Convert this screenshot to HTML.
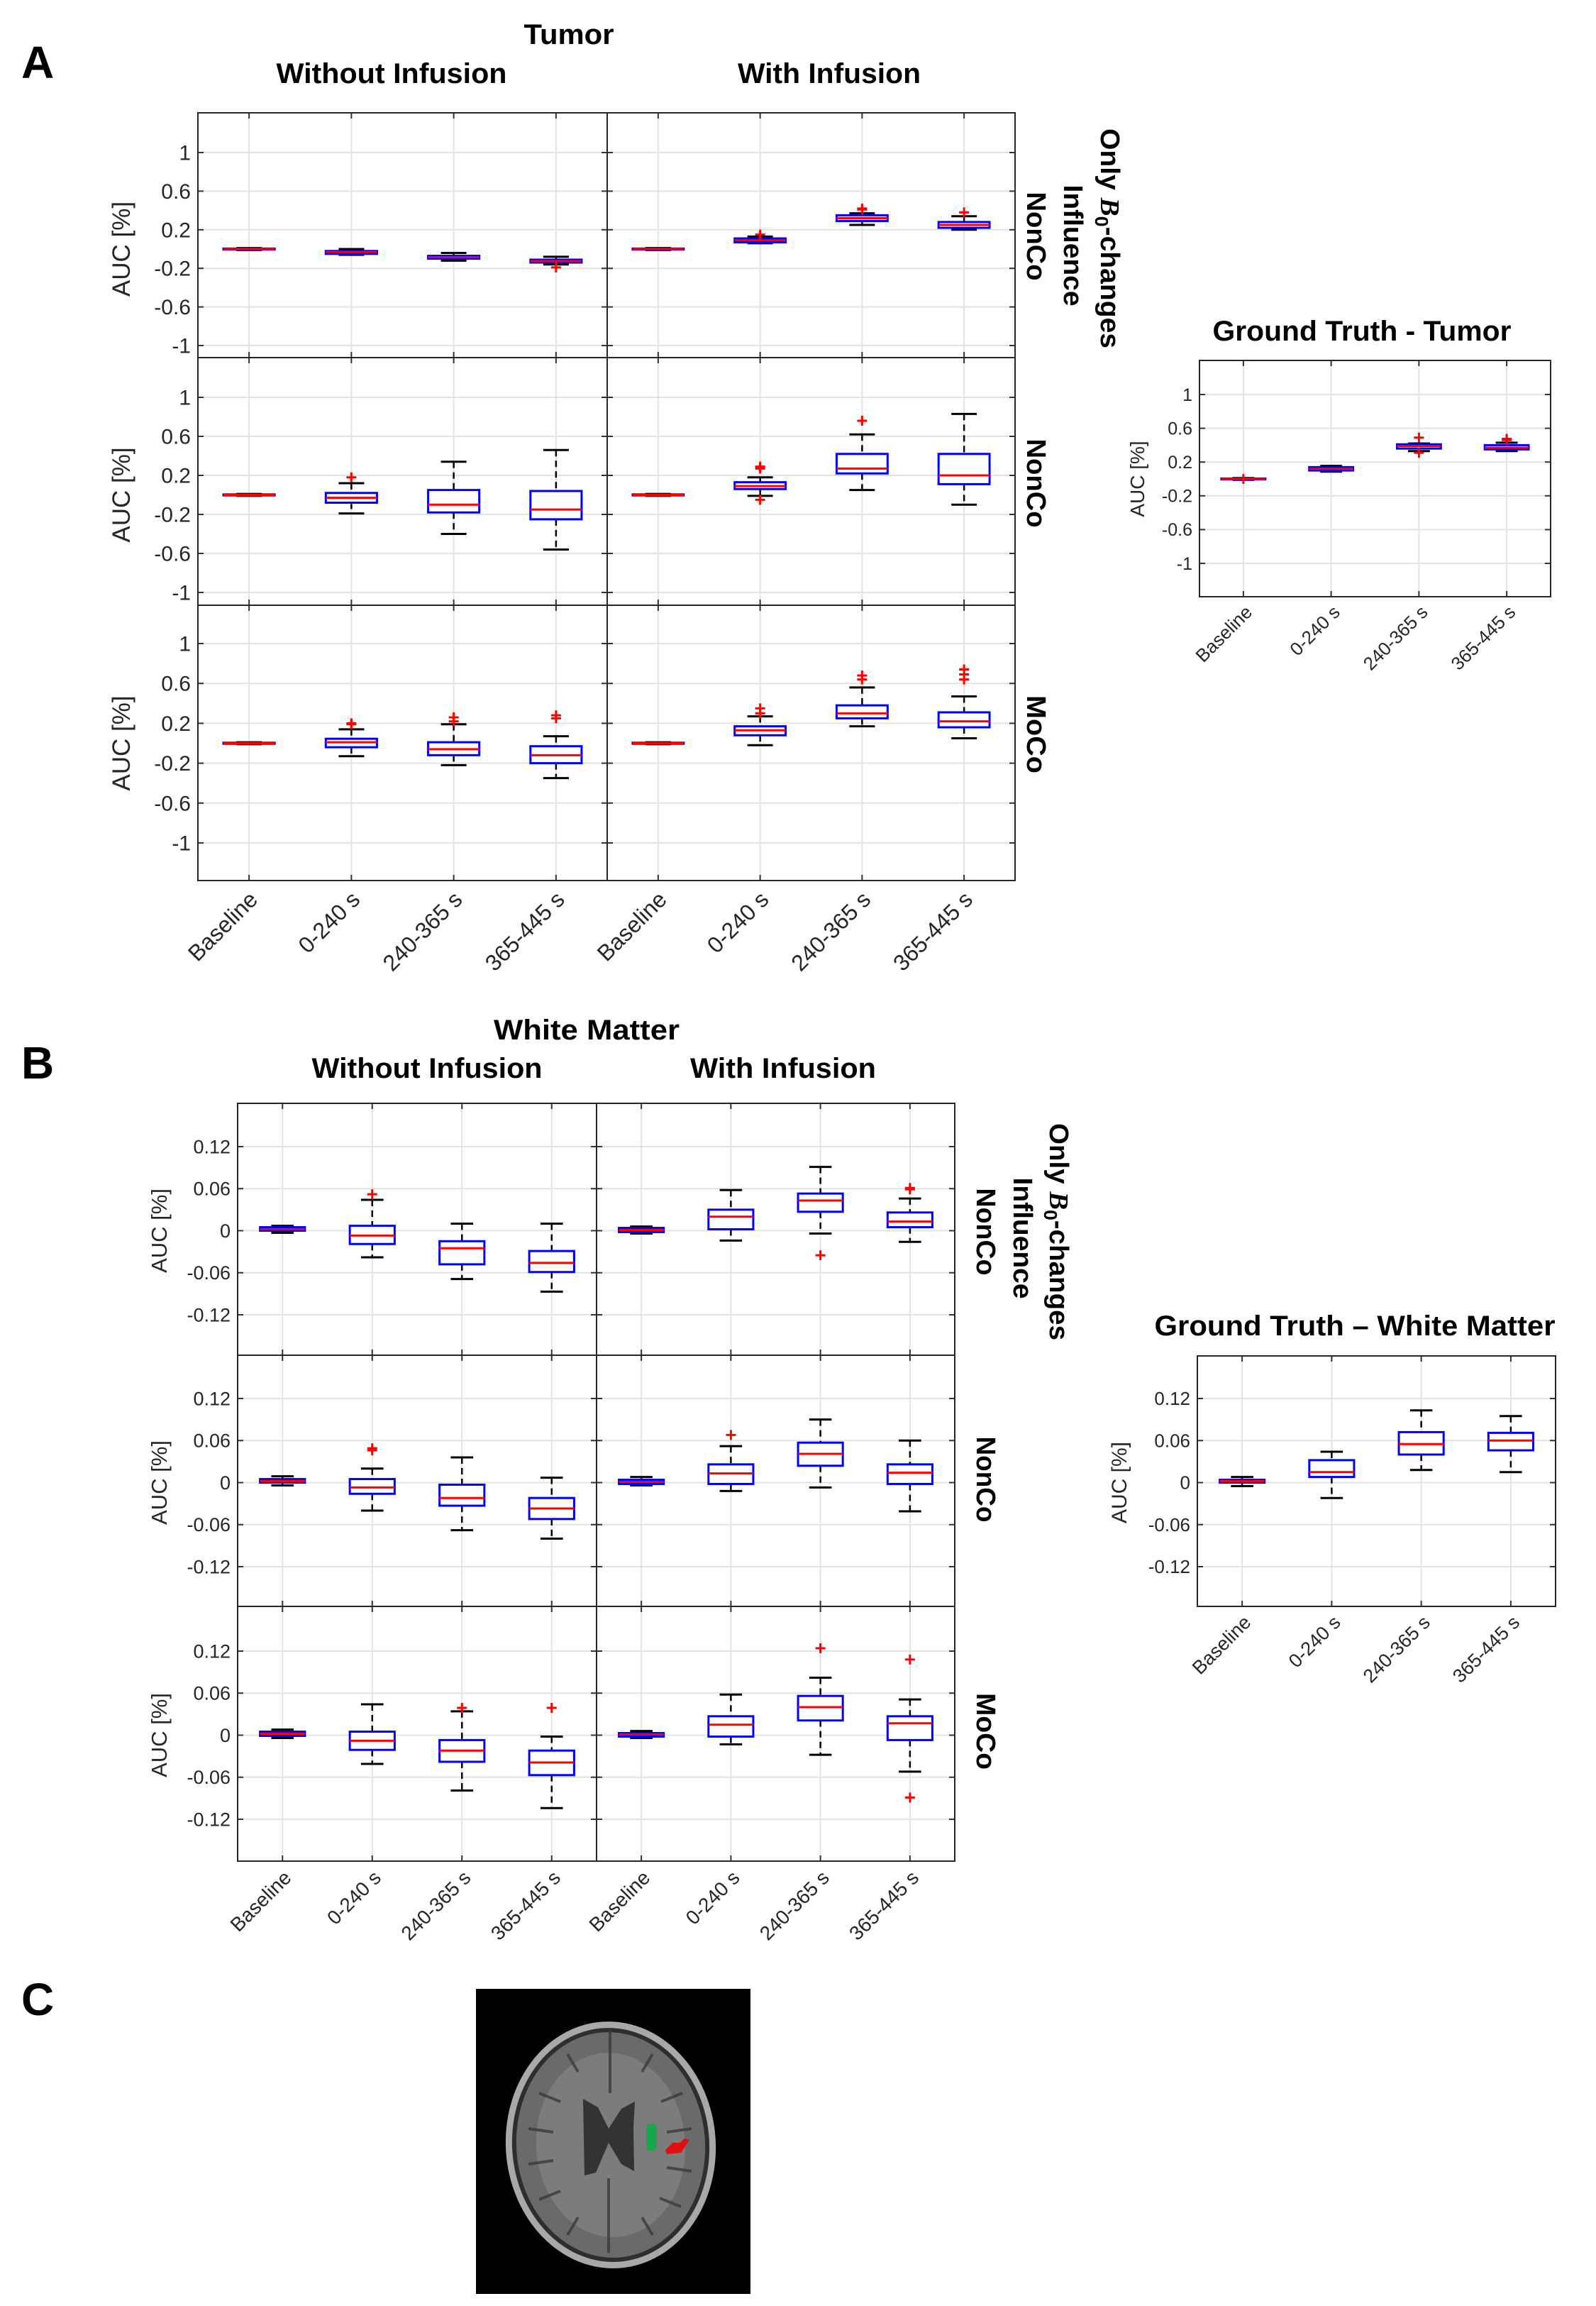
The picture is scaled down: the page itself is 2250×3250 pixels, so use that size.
<!DOCTYPE html>
<html><head><meta charset="utf-8"><style>
html,body{margin:0;padding:0;background:#fff;}
svg{display:block;font-family:"Liberation Sans",sans-serif;}
.t{font-weight:bold;fill:#000;}
</style></head><body>
<svg id="fig" width="2250" height="3250" viewBox="0 0 2250 3250" xmlns="http://www.w3.org/2000/svg">
<rect width="2250" height="3250" fill="#fff"/>
<text class="t" x="30" y="110" font-size="64">A</text>
<text class="t" x="802" y="62" font-size="40" text-anchor="middle" textLength="127" lengthAdjust="spacingAndGlyphs">Tumor</text>
<text class="t" x="552" y="117" font-size="40" text-anchor="middle" textLength="325" lengthAdjust="spacingAndGlyphs">Without Infusion</text>
<text class="t" x="1169" y="117" font-size="40" text-anchor="middle" textLength="258" lengthAdjust="spacingAndGlyphs">With Infusion</text>
<text class="t" x="1920" y="480" font-size="40" text-anchor="middle" textLength="421" lengthAdjust="spacingAndGlyphs">Ground Truth - Tumor</text>
<text class="t" x="30" y="1520" font-size="64">B</text>
<text class="t" x="827" y="1465" font-size="40" text-anchor="middle" textLength="262" lengthAdjust="spacingAndGlyphs">White Matter</text>
<text class="t" x="602" y="1519" font-size="40" text-anchor="middle" textLength="325" lengthAdjust="spacingAndGlyphs">Without Infusion</text>
<text class="t" x="1104" y="1519" font-size="40" text-anchor="middle" textLength="262" lengthAdjust="spacingAndGlyphs">With Infusion</text>
<text class="t" x="1910" y="1882" font-size="40" text-anchor="middle" textLength="565" lengthAdjust="spacingAndGlyphs">Ground Truth – White Matter</text>
<text class="t" x="30" y="2840" font-size="64">C</text>

<g>
<rect x="671" y="2803" width="387" height="430" fill="#000"/>
<ellipse cx="861" cy="3023" rx="148" ry="174" fill="#a8a8a8" transform="rotate(-4 861 3023)"/>
<ellipse cx="861" cy="3023" rx="139" ry="165" fill="#2e2e2e" transform="rotate(-4 861 3023)"/>
<ellipse cx="861" cy="3023" rx="133" ry="159" fill="#6a6a6a" transform="rotate(-4 861 3023)"/>
<ellipse cx="861" cy="3023" rx="105" ry="130" fill="#7c7c7c" transform="rotate(-4 861 3023)"/>
<g stroke="#3a3a3a" stroke-width="4" fill="none" opacity="0.8">
<path d="M860 2862 V2950"/><path d="M858 3070 V3175"/>
<path d="M760 2950 l30 12"/><path d="M745 3000 l35 5"/><path d="M745 3050 l35 -5"/><path d="M760 3100 l30 -12"/>
<path d="M962 2950 l-30 12"/><path d="M975 3000 l-35 5"/><path d="M975 3060 l-35 -5"/><path d="M960 3110 l-30 -12"/>
<path d="M800 2895 l15 25"/><path d="M920 2895 l-15 25"/><path d="M800 3150 l15 -25"/><path d="M920 3150 l-15 -25"/>
</g>
<path d="M822 2958 L843 2970 L858 3000 L876 2972 L895 2962 L893 3000 L894 3060 L876 3050 L858 3020 L840 3062 L824 3066 Z" fill="#333"/>
<rect x="911" y="2993" width="15" height="38" rx="6" fill="#1aa64a"/>
<path d="M938 3030 L948 3020 L958 3020 L965 3014 L972 3016 L960 3034 L940 3036 Z" fill="#e01010"/>
</g>
<g id="plots"></g>
</svg>
<script>
// ===== DATA =====
const categories = ["Baseline","0-240 s","240-365 s","365-445 s"];
const tumorTicks = [1,0.6,0.2,-0.2,-0.6,-1];
const tumorTickLabels = ["1","0.6","0.2","-0.2","-0.6","-1"];
const wmTicks = [0.12,0.06,0,-0.06,-0.12];
const wmTickLabels = ["0.12","0.06","0","-0.06","-0.12"];

// Tumor, only B0 influence, without infusion
const a1wQ3=[0.005,-0.02,-0.07,-0.11], a1wMed=[0,-0.03,-0.085,-0.125], a1wQ1=[-0.005,-0.05,-0.1,-0.14];
const a1wHi=[0.01,0,-0.04,-0.08], a1wLo=[-0.01,-0.06,-0.12,-0.16], a1wOut=[[],[],[],[-0.19]];
// Tumor, only B0, with infusion
const a1iQ3=[0.005,0.11,0.35,0.28], a1iMed=[0,0.09,0.32,0.25], a1iQ1=[-0.005,0.07,0.29,0.22];
const a1iHi=[0.01,0.13,0.37,0.34], a1iLo=[-0.01,0.06,0.25,0.2], a1iOut=[[],[0.15],[0.42,0.41],[0.38]];
// Tumor NonCo without
const a2wQ3=[0.005,0.02,0.05,0.04], a2wMed=[0,-0.03,-0.1,-0.15], a2wQ1=[-0.005,-0.08,-0.18,-0.25];
const a2wHi=[0.01,0.12,0.34,0.46], a2wLo=[-0.01,-0.19,-0.4,-0.56], a2wOut=[[],[0.18],[],[]];
// Tumor NonCo with
const a2iQ3=[0.005,0.13,0.42,0.42], a2iMed=[0,0.09,0.27,0.2], a2iQ1=[-0.005,0.06,0.22,0.11];
const a2iHi=[0.01,0.18,0.62,0.83], a2iLo=[-0.01,-0.01,0.05,-0.1], a2iOut=[[],[0.29,0.27,-0.05],[0.76],[]];
// Tumor MoCo without
const a3wQ3=[0.005,0.045,0.01,-0.03], a3wMed=[0,0.01,-0.06,-0.12], a3wQ1=[-0.005,-0.04,-0.12,-0.2];
const a3wHi=[0.01,0.14,0.19,0.07], a3wLo=[-0.01,-0.13,-0.22,-0.35], a3wOut=[[],[0.2,0.19],[0.26,0.22],[0.28,0.25]];
// Tumor MoCo with
const a3iQ3=[0.005,0.17,0.38,0.31], a3iMed=[0,0.13,0.3,0.22], a3iQ1=[-0.005,0.08,0.25,0.16];
const a3iHi=[0.01,0.27,0.56,0.47], a3iLo=[-0.01,-0.02,0.17,0.05], a3iOut=[[],[0.35,0.3],[0.68,0.64],[0.74,0.69,0.64]];
// Ground truth tumor
const gtQ3=[0.005,0.14,0.41,0.4], gtMed=[0,0.12,0.39,0.37], gtQ1=[-0.005,0.1,0.36,0.35];
const gtHi=[0.01,0.155,0.42,0.43], gtLo=[-0.01,0.086,0.33,0.33], gtOut=[[0],[],[0.49,0.31],[0.475,0.46]];

// WM only B0 without
const b1wQ3=[0.005,0.007,-0.015,-0.029], b1wMed=[0.002,-0.007,-0.025,-0.046], b1wQ1=[0,-0.019,-0.048,-0.059];
const b1wHi=[0.007,0.044,0.01,0.01], b1wLo=[-0.003,-0.038,-0.069,-0.087], b1wOut=[[],[0.052],[],[]];
// WM only B0 with
const b1iQ3=[0.004,0.03,0.053,0.026], b1iMed=[0.001,0.02,0.043,0.013], b1iQ1=[-0.002,0.002,0.027,0.005];
const b1iHi=[0.006,0.058,0.091,0.046], b1iLo=[-0.004,-0.014,-0.004,-0.016], b1iOut=[[],[],[-0.035],[0.061,0.059]];
// WM NonCo without
const b2wQ3=[0.005,0.005,-0.003,-0.022], b2wMed=[0.002,-0.007,-0.022,-0.037], b2wQ1=[0,-0.016,-0.033,-0.052];
const b2wHi=[0.009,0.02,0.036,0.007], b2wLo=[-0.004,-0.04,-0.068,-0.08], b2wOut=[[],[0.049,0.046],[],[]];
// WM NonCo with
const b2iQ3=[0.004,0.026,0.057,0.026], b2iMed=[0.001,0.013,0.041,0.014], b2iQ1=[-0.002,-0.002,0.024,-0.002];
const b2iHi=[0.008,0.052,0.09,0.06], b2iLo=[-0.004,-0.012,-0.007,-0.041], b2iOut=[[],[0.068],[],[]];
// WM MoCo without
const b3wQ3=[0.005,0.005,-0.007,-0.022], b3wMed=[0.002,-0.008,-0.022,-0.039], b3wQ1=[-0.001,-0.021,-0.038,-0.057];
const b3wHi=[0.008,0.044,0.034,-0.002], b3wLo=[-0.004,-0.041,-0.079,-0.104], b3wOut=[[],[],[0.039],[0.039]];
// WM MoCo with
const b3iQ3=[0.003,0.027,0.056,0.027], b3iMed=[0.001,0.015,0.04,0.017], b3iQ1=[-0.002,-0.002,0.021,-0.007];
const b3iHi=[0.006,0.058,0.082,0.051], b3iLo=[-0.004,-0.013,-0.028,-0.052], b3iOut=[[],[],[0.124],[0.108,-0.089]];
// Ground truth WM
const gwQ3=[0.004,0.032,0.072,0.071], gwMed=[0.002,0.015,0.055,0.06], gwQ1=[0,0.008,0.04,0.046];
const gwHi=[0.008,0.044,0.103,0.095], gwLo=[-0.005,-0.022,0.018,0.015], gwOut=[[],[],[],[]];

// ===== DRAWING =====
const NS="http://www.w3.org/2000/svg";
const root=document.getElementById('plots');
function mk(tag,attrs,parent){const e=document.createElementNS(NS,tag);for(const k in attrs)e.setAttribute(k,attrs[k]);(parent||root).appendChild(e);return e;}
function linScale(vA,pA,vB,pB){return v=>pA+(v-vA)*(pB-pA)/(vB-vA);}

function panel(o){
  const g=mk('g',{});
  
  
  const y=linScale(o.vA,o.pA,o.vB,o.pB);
  const n=categories.length, sp=(o.x1-o.x0)/n;
  const xc=i=>o.x0+(i+0.5)*sp;
  const bw=sp*0.5;
  o.ticks.forEach((t,i)=>{
    const yy=y(t);
    if(yy<o.y0||yy>o.y1) return;
    mk('line',{x1:o.x0,x2:o.x1,y1:yy,y2:yy,stroke:'#e3e3e3','stroke-width':2},g);
    mk('line',{x1:o.x0,x2:o.x0+8,y1:yy,y2:yy,stroke:'#333','stroke-width':2},g);
    mk('line',{x1:o.x1-8,x2:o.x1,y1:yy,y2:yy,stroke:'#333','stroke-width':2},g);
    if(o.labels){
      const tl=mk('text',{x:o.x0-10,y:yy+o.fs*0.35,'font-size':o.fs,'text-anchor':'end',fill:'#262626'},g);
      
      
      tl.textContent=o.tickLabels[i];
    }
  });
  categories.forEach((c,i)=>{
    mk('line',{x1:xc(i),x2:xc(i),y1:o.y0,y2:o.y1,stroke:'#e3e3e3','stroke-width':2},g);
    mk('line',{x1:xc(i),x2:xc(i),y1:o.y1-8,y2:o.y1,stroke:'#333','stroke-width':2},g);
    mk('line',{x1:xc(i),x2:xc(i),y1:o.y0,y2:o.y0+8,stroke:'#333','stroke-width':2},g);
    if(o.xlabels){
      const tx=mk('text',{transform:`translate(${xc(i)+14},${o.y1+o.xfs*0.9}) rotate(-45)`,'font-size':o.xfs,'text-anchor':'end',fill:'#262626'},g);
      
      
      tx.textContent=c;
    }
  });
  const d=o.data;
  categories.forEach((c,i)=>{
    const bx=mk('g',{},g);
    
    
    const cx=xc(i);
    mk('line',{x1:cx,x2:cx,y1:y(d.hi[i]),y2:y(d.q3[i]),stroke:'#000','stroke-width':2.5,'stroke-dasharray':'9,6'},bx);
    mk('line',{x1:cx,x2:cx,y1:y(d.q1[i]),y2:y(d.lo[i]),stroke:'#000','stroke-width':2.5,'stroke-dasharray':'9,6'},bx);
    mk('line',{x1:cx-bw/4,x2:cx+bw/4,y1:y(d.hi[i]),y2:y(d.hi[i]),stroke:'#000','stroke-width':3},bx);
    mk('line',{x1:cx-bw/4,x2:cx+bw/4,y1:y(d.lo[i]),y2:y(d.lo[i]),stroke:'#000','stroke-width':3},bx);
    const top=y(d.q3[i]), bot=y(d.q1[i]);
    mk('rect',{x:cx-bw/2,y:top,width:bw,height:Math.max(bot-top,1),fill:'#fff',stroke:'#0000ff','stroke-width':3},bx);
    mk('line',{x1:cx-bw/2,x2:cx+bw/2,y1:y(d.med[i]),y2:y(d.med[i]),stroke:'#ff0000','stroke-width':3},bx);
    d.out[i].forEach(v=>{
      const oy=y(v);
      mk('path',{d:`M${cx-7} ${oy}H${cx+7}M${cx} ${oy-7}V${oy+7}`,stroke:'#ff0000','stroke-width':3},bx);
    });
  });
  mk('rect',{x:o.x0,y:o.y0,width:o.x1-o.x0,height:o.y1-o.y0,fill:'none',stroke:'#262626','stroke-width':2},g);
  if(o.ylabel){
    const yl=mk('text',{transform:`translate(${o.x0-o.ylOff},${y((o.vA+o.vB)/2)}) rotate(-90)`,'font-size':o.ylfs,'text-anchor':'middle',fill:'#262626'},g);
    
    
    yl.textContent='AUC [%]';
  }
}
function D(q1,med,q3,lo,hi,out){return {q1,med,q3,lo,hi,out};}

const A={L:279,M:856,R:1431};
const aRows=[{y0:159,y1:504,p1:215,pm:487},{y0:504,y1:853,p1:560,pm:835},{y0:853,y1:1241,p1:907,pm:1188}];
const aData=[[D(a1wQ1,a1wMed,a1wQ3,a1wLo,a1wHi,a1wOut),D(a1iQ1,a1iMed,a1iQ3,a1iLo,a1iHi,a1iOut)],
             [D(a2wQ1,a2wMed,a2wQ3,a2wLo,a2wHi,a2wOut),D(a2iQ1,a2iMed,a2iQ3,a2iLo,a2iHi,a2iOut)],
             [D(a3wQ1,a3wMed,a3wQ3,a3wLo,a3wHi,a3wOut),D(a3iQ1,a3iMed,a3iQ3,a3iLo,a3iHi,a3iOut)]];
aRows.forEach((r,ri)=>{
  [[A.L,A.M],[A.M,A.R]].forEach((xs,ci)=>{
    panel({name:`tumor-row${ri+1}-${ci?'with':'without'}-infusion`,x0:xs[0],x1:xs[1],y0:r.y0,y1:r.y1,vA:1,pA:r.p1,vB:-1,pB:r.pm,
      ticks:tumorTicks,tickLabels:tumorTickLabels,labels:ci===0,fs:30,xfs:32,xlabels:ri===2,data:aData[ri][ci],ylabel:ci===0,ylOff:96,ylfs:35});
  });
});
panel({name:'gt-tumor-chart',x0:1691,x1:2186,y0:508,y1:841,vA:1,pA:556,vB:-1,pB:794,ticks:tumorTicks,tickLabels:tumorTickLabels,labels:true,fs:25,xfs:26,xlabels:true,
  data:D(gtQ1,gtMed,gtQ3,gtLo,gtHi,gtOut),ylabel:true,ylOff:78,ylfs:28});

const B={L:335,M:841,R:1346};
const bRows=[{y0:1555,y1:1910,p1:1616,pm:1853},{y0:1910,y1:2264,p1:1971,pm:2208},{y0:2264,y1:2623,p1:2327,pm:2564}];
const bData=[[D(b1wQ1,b1wMed,b1wQ3,b1wLo,b1wHi,b1wOut),D(b1iQ1,b1iMed,b1iQ3,b1iLo,b1iHi,b1iOut)],
             [D(b2wQ1,b2wMed,b2wQ3,b2wLo,b2wHi,b2wOut),D(b2iQ1,b2iMed,b2iQ3,b2iLo,b2iHi,b2iOut)],
             [D(b3wQ1,b3wMed,b3wQ3,b3wLo,b3wHi,b3wOut),D(b3iQ1,b3iMed,b3iQ3,b3iLo,b3iHi,b3iOut)]];
bRows.forEach((r,ri)=>{
  [[B.L,B.M],[B.M,B.R]].forEach((xs,ci)=>{
    panel({name:`wm-row${ri+1}-${ci?'with':'without'}-infusion`,x0:xs[0],x1:xs[1],y0:r.y0,y1:r.y1,vA:0.12,pA:r.p1,vB:-0.12,pB:r.pm,
      ticks:wmTicks,tickLabels:wmTickLabels,labels:ci===0,fs:27,xfs:28,xlabels:ri===2,data:bData[ri][ci],ylabel:ci===0,ylOff:100,ylfs:31});
  });
});
panel({name:'gt-wm-chart',x0:1688,x1:2193,y0:1911,y1:2264,vA:0.12,pA:1971,vB:-0.12,pB:2208,ticks:wmTicks,tickLabels:wmTickLabels,labels:true,fs:26,xfs:27,xlabels:true,
  data:D(gwQ1,gwMed,gwQ3,gwLo,gwHi,gwOut),ylabel:true,ylOff:100,ylfs:30});

function rowLabel(name,x,y,txt,len){
  const t=mk('text',{transform:`translate(${x},${y}) rotate(90)`,'font-size':38,'font-weight':'bold','text-anchor':'middle',textLength:len,lengthAdjust:'spacingAndGlyphs'});
  
  
  t.textContent=txt;
}
function b0Label(name,x,y,len){
  const t=mk('text',{transform:`translate(${x},${y}) rotate(90)`,'font-size':38,'font-weight':'bold','text-anchor':'middle',textLength:len,lengthAdjust:'spacingAndGlyphs'});
  
  
  const s1=mk('tspan',{},t); s1.textContent='Only ';
  const s2=mk('tspan',{'font-family':'Liberation Serif,serif','font-style':'italic'},t); s2.textContent='B';
  const s3=mk('tspan',{'font-size':26,dy:8},t); s3.textContent='0';
  const s4=mk('tspan',{dy:-8},t); s4.textContent='-changes';
}
b0Label('a-row1-label-line1',1552,336,310);
rowLabel('a-row1-label-line2',1500,346,'Influence',171);
rowLabel('a-row1-label-line3',1448,333,'NonCo',125);
rowLabel('a-row2-label',1448,681,'NonCo',125);
rowLabel('a-row3-label',1448,1035,'MoCo',110);
b0Label('b-row1-label-line1',1480,1736,306);
rowLabel('b-row1-label-line2',1429,1745,'Influence',171);
rowLabel('b-row1-label-line3',1377,1736,'NonCo',123);
rowLabel('b-row2-label',1377,2085,'NonCo',121);
rowLabel('b-row3-label',1377,2440,'MoCo',108);
</script>
</body></html>
